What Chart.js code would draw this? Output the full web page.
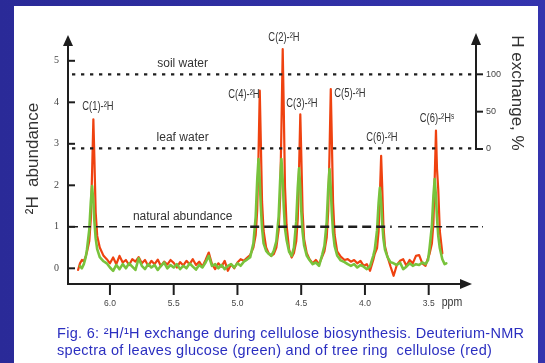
<!DOCTYPE html>
<html>
<head>
<meta charset="utf-8">
<script src="https://cdn.jsdelivr.net/npm/chart.js@4.4.1/dist/chart.umd.min.js"></script>
<style>
html, body { margin: 0; padding: 0; }
body { width: 545px; height: 363px; overflow: hidden; position: relative; background: linear-gradient(90deg, #2a2a98, #3434ae); }
#panel { position: absolute; left: 14px; top: 6px; width: 524px; height: 357px; background: #fff; }
#chart { position: absolute; left: 0; top: 0; }
#caption { position: absolute; left: 57px; top: 325px; font: 14.5px 'Liberation Sans', Arial, sans-serif; letter-spacing: 0.3px; line-height: 17px; color: #2b2fc0; white-space: nowrap; }
</style>
</head>
<body>
<div id="panel"></div>
<canvas id="chart" width="545" height="363"></canvas>
<div id="caption">Fig. 6: ²H/¹H exchange during cellulose biosynthesis. Deuterium-NMR<br>spectra of leaves glucose (green) and of tree ring&nbsp; cellulose (red)</div>
<script>
// chemical shift, ppm
const ppm = [
    6.25, 6.235, 6.22, 6.205, 6.19, 6.18, 6.162, 6.15, 6.14, 6.13, 6.122, 6.112, 6.10, 6.08, 6.05,
    6.025, 6.0, 5.975, 5.95, 5.925, 5.9, 5.875, 5.85, 5.825, 5.8, 5.775, 5.75, 5.725, 5.7, 5.675, 5.65, 5.625, 5.6, 5.575, 5.55,
    5.525, 5.5, 5.475, 5.45, 5.425, 5.4, 5.375, 5.35, 5.325, 5.3, 5.275, 5.25, 5.225, 5.2, 5.175, 5.15, 5.125, 5.1, 5.075, 5.05,
    5.025, 5.0, 4.975, 4.95,
    4.925, 4.9, 4.875, 4.857, 4.845, 4.835, 4.825, 4.817, 4.807, 4.795, 4.775, 4.755, 4.735, 4.715, 4.695, 4.677, 4.665, 4.655,
    4.645, 4.637, 4.627, 4.615, 4.595, 4.575, 4.557, 4.539, 4.527, 4.517, 4.507, 4.499, 4.489, 4.477, 4.457, 4.435, 4.41, 4.385,
    4.36, 4.335, 4.318, 4.3, 4.288, 4.278, 4.268, 4.26, 4.25, 4.238, 4.218, 4.19, 4.16,
    4.135, 4.11, 4.085, 4.06, 4.035, 4.01, 3.985, 3.96, 3.935, 3.923, 3.905, 3.893, 3.883, 3.873, 3.865, 3.855, 3.843, 3.823, 3.8,
    3.775, 3.75, 3.725, 3.7, 3.675, 3.65, 3.625, 3.6, 3.575, 3.55, 3.525, 3.505, 3.493, 3.475, 3.463, 3.453, 3.443, 3.435, 3.425,
    3.413, 3.393, 3.375, 3.362
];
// tree ring cellulose (red)
const red = [
    -0.04, 0.12, 0.2, 0.17, 0.28, 0.4, 0.66, 1.19, 2.32, 3.59, 2.65, 1.35, 0.78, 0.5, 0.3,
    0.22, 0.12, 0.26, 0.1, 0.3, 0.14, 0.2, 0.08, 0.22, 0.16, 0.27, 0.12, 0.2, 0.06, 0.18, 0.1, 0.21, 0.05, 0.16, 0.09,
    0.2, 0.13, 0.02, 0.15, 0.07, 0.18, 0.1, 0.22, 0.08, 0.16, 0.04, 0.2, 0.38, 0.1, -0.02, 0.12, 0.04, 0.18, -0.06, 0.1,
    0.0, 0.14, 0.22, 0.18,
    0.25, 0.32, 0.5, 0.8, 1.4, 2.7, 4.28, 3.1, 1.6, 0.9, 0.5, 0.36, 0.3, 0.34, 0.5, 0.92, 1.7, 3.4,
    5.28, 3.9, 1.95, 1.05, 0.45, 0.26, 0.37, 0.65, 1.19, 2.35, 3.71, 2.7, 1.35, 0.7, 0.37, 0.22, 0.12, 0.2,
    0.1, 0.28, 0.41, 0.74, 1.39, 2.77, 4.32, 3.15, 1.58, 0.81, 0.41, 0.28, 0.2,
    0.22, 0.16, 0.2, 0.12, 0.18, 0.06, 0.1, -0.06, 0.2, 0.35, 0.49, 0.89, 1.75, 2.71, 2.0, 1.01, 0.53, 0.28, 0.05,
    -0.18, 0.08, 0.18, 0.22, 0.06, 0.2, 0.12, 0.3, 0.32, 0.12, 0.06, 0.25, 0.35, 0.6, 1.09, 2.15, 3.32, 2.4, 1.9,
    0.9, 0.36, null, null
];
// leaves glucose (green)
const green = [
    null, 0.05, 0.0, 0.1, 0.27, 0.46, 0.94, 1.6, 1.98, 1.6, 1.13, 0.72, 0.46, 0.27, 0.17,
    0.12, 0.02, -0.06, 0.08, -0.02, 0.1, 0.0, 0.12, 0.04, -0.04, 0.24, 0.06, -0.02, 0.1, 0.02, 0.08, -0.04, 0.06, 0.14, 0.0,
    0.08, 0.02, 0.1, -0.02, 0.06, 0.0, 0.12, 0.04, -0.03, 0.08, 0.02, 0.14, 0.3, 0.06, 0.1, 0.0, 0.08, -0.02, 0.06, 0.1,
    0.02, 0.12, 0.06, 0.16,
    0.21, 0.27, 0.6, 1.24, 2.12, 2.63, 2.12, 1.5, 0.96, 0.6, 0.42, 0.35, 0.3, 0.42, 0.65, 1.24, 2.12, 2.63,
    2.12, 1.5, 0.96, 0.69, 0.4, 0.3, 0.5, 1.13, 1.94, 2.41, 1.94, 1.37, 0.87, 0.55, 0.31, 0.2, 0.1, 0.14,
    0.06, 0.33, 0.54, 1.12, 1.93, 2.39, 1.93, 1.36, 0.86, 0.54, 0.31, 0.19, 0.15,
    0.1, 0.06, 0.1, 0.02, 0.08, 0.04, -0.02, 0.05, 0.3, 0.45, 0.92, 1.57, 1.94, 1.57, 1.11, 0.71, 0.45, 0.27, 0.15,
    0.12, 0.08, 0.14, -0.02, 0.04, 0.12, 0.06, 0.1, 0.08, 0.14, 0.1, 0.2, 0.49, 1.02, 1.74, 2.15, 1.74, 1.22, 0.78,
    0.49, 0.22, 0.1, 0.12
];

const xTicks = [6.0, 5.5, 5.0, 4.5, 4.0, 3.5];
const yTicks = [0, 1, 2, 3, 4, 5];
const exchangeTicks = [0, 50, 100];

const peakNames = ["C(1)-²H", "C(4)-²H", "C(2)-²H", "C(3)-²H", "C(5)-²H", "C(6)-²H", "C(6)-²Hˢ"];
const peakLabelPpm = [6.094, 4.949, 4.635, 4.494, 4.118, 3.867, 3.435];
const peakLabelY = [3.89, 4.18, 5.57, 3.98, 4.22, 3.16, 3.60];

const levelNames = ["soil water", "leaf water", "natural abundance"];
const levelValues = [4.675, 2.89, 1.0];
const levelLabelPpm = 5.43;

const SANS = "'Liberation Sans', Arial, sans-serif";
const SERIF = "'Liberation Serif', 'Times New Roman', serif";

function toPoints(values) {
    const pts = [];
    ppm.forEach((p, i) => {
        if (values[i] !== null) pts.push({ x: p, y: values[i] });
    });
    return pts;
}

function line(ctx, x1, y1, x2, y2) {
    ctx.beginPath();
    ctx.moveTo(x1, y1);
    ctx.lineTo(x2, y2);
    ctx.stroke();
}

function triangle(ctx, pts) {
    ctx.beginPath();
    ctx.moveTo(pts[0], pts[1]);
    ctx.lineTo(pts[2], pts[3]);
    ctx.lineTo(pts[4], pts[5]);
    ctx.closePath();
    ctx.fill();
}

// the original uses a condensed face, so squeeze the text a little
function narrowText(ctx, text, x, y, squeeze) {
    ctx.save();
    ctx.translate(x, y);
    ctx.scale(squeeze, 1);
    ctx.fillText(text, 0, 0);
    ctx.restore();
}

const decorations = {
    id: "decorations",
    afterDatasetsDraw(chart) {
        const ctx = chart.ctx;
        const a = chart.chartArea;
        const x = chart.scales.x, y = chart.scales.y, y2 = chart.scales.y2;
        ctx.save();
        ctx.strokeStyle = "#1e1e1e";
        ctx.fillStyle = "#1e1e1e";

        // soil water / leaf water (dotted)
        ctx.lineWidth = 2.3;
        ctx.setLineDash([3.3, 5.7]);
        [0, 1].forEach(i => {
            const py = y.getPixelForValue(levelValues[i]);
            line(ctx, a.left + 4, py, a.right, py);
        });
        // natural abundance (dashed, heavier in the middle)
        const py1 = y.getPixelForValue(levelValues[2]);
        ctx.lineWidth = 1.4;
        ctx.setLineDash([8, 5]);
        line(ctx, a.left + 2, py1, x.getPixelForValue(4.90), py1);
        ctx.lineWidth = 2.6;
        ctx.setLineDash([9, 5]);
        line(ctx, x.getPixelForValue(4.90), py1, x.getPixelForValue(3.79), py1);
        ctx.lineWidth = 1.4;
        ctx.setLineDash([8, 4]);
        line(ctx, x.getPixelForValue(3.74), py1, a.right + 7, py1);
        ctx.setLineDash([]);

        // axes with arrows
        ctx.lineWidth = 2;
        line(ctx, a.left, a.top + 10, a.left, a.bottom + 1);
        line(ctx, a.left - 1, a.bottom, a.right - 12, a.bottom);
        triangle(ctx, [a.left, a.top + 2, a.left - 5, a.top + 13, a.left + 5, a.top + 13]);
        triangle(ctx, [a.right - 4, a.bottom, a.right - 16, a.bottom - 5, a.right - 16, a.bottom + 5]);
        const zero = y2.getPixelForValue(exchangeTicks[0]);
        line(ctx, a.right, a.top + 10, a.right, zero + 1);
        triangle(ctx, [a.right, a.top, a.right - 5, a.top + 12, a.right + 5, a.top + 12]);

        // tick marks
        yTicks.forEach(v => {
            const p = y.getPixelForValue(v);
            line(ctx, a.left, p, a.left + 7, p);
        });
        xTicks.forEach(v => {
            const p = x.getPixelForValue(v);
            line(ctx, p, a.bottom, p, a.bottom + 11);
        });
        exchangeTicks.forEach(v => {
            const p = y2.getPixelForValue(v);
            line(ctx, a.right, p, a.right + 7, p);
        });

        // texts
        ctx.fillStyle = "#333";
        ctx.textAlign = "center";
        ctx.textBaseline = "middle";
        ctx.font = "12px " + SANS;
        levelNames.forEach((name, i) => {
            ctx.fillText(name, x.getPixelForValue(levelLabelPpm), y.getPixelForValue(levelValues[i]) - 10.5);
        });
        ctx.font = "12.5px " + SANS;
        peakNames.forEach((name, i) => {
            narrowText(ctx, name, x.getPixelForValue(peakLabelPpm[i]), y.getPixelForValue(peakLabelY[i]), 0.75);
        });

        ctx.font = "17px " + SANS;
        ctx.save();
        ctx.translate(33, (a.top + a.bottom) / 2);
        ctx.rotate(-Math.PI / 2);
        ctx.fillText("²H  abundance", 0, 0);
        ctx.restore();
        ctx.save();
        ctx.translate(517, (a.top + zero) / 2 + 2);
        ctx.rotate(Math.PI / 2);
        ctx.fillText("H exchange, %", 0, 0);
        ctx.restore();

        ctx.font = "13.5px " + SANS;
        narrowText(ctx, "ppm", a.right - 24, a.bottom + 18, 0.78);
        ctx.restore();
    }
};

function fixTicks(list) {
    return scale => { scale.ticks = list.map(v => ({ value: v })); };
}

new Chart(document.getElementById("chart"), {
    type: "line",
    data: {
        datasets: [{
            label: "leaves glucose",
            data: toPoints(green),
            borderColor: "#78c33c",
            borderWidth: 2.6
        }, {
            label: "tree ring cellulose",
            data: toPoints(red),
            borderColor: "#ef4210",
            borderWidth: 2.2
        }]
    },
    options: {
        responsive: false,
        animation: false,
        events: [],
        layout: { padding: { top: 33, left: 0, right: 0, bottom: 0 } },
        elements: {
            point: { radius: 0 },
            line: { tension: 0, borderJoinStyle: "round", borderCapStyle: "round" }
        },
        plugins: { legend: { display: false }, tooltip: { enabled: false } },
        scales: {
            x: {
                type: "linear",
                reverse: true,
                min: 3.129,
                max: 6.329,
                grid: { display: false, drawTicks: false },
                border: { display: false },
                afterBuildTicks: fixTicks(xTicks),
                afterFit: s => { s.height = 79; },
                ticks: {
                    padding: 15,
                    color: "#444",
                    font: { family: SANS, size: 8.5 },
                    callback: v => v.toFixed(1)
                }
            },
            y: {
                position: "left",
                min: -0.378,
                max: 5.67,
                grid: { display: false, drawTicks: false },
                border: { display: false },
                afterBuildTicks: fixTicks(yTicks),
                afterFit: s => { s.width = 68; },
                ticks: { padding: 9, color: "#444", font: { family: SERIF, size: 10 } }
            },
            y2: {
                position: "right",
                min: -180.7,
                max: 155.3,
                grid: { display: false, drawTicks: false },
                border: { display: false },
                afterBuildTicks: fixTicks(exchangeTicks),
                afterFit: s => { s.width = 69; },
                ticks: { padding: 10, color: "#444", font: { family: SANS, size: 9 } }
            }
        }
    },
    plugins: [decorations]
});
</script>
</body>
</html>
